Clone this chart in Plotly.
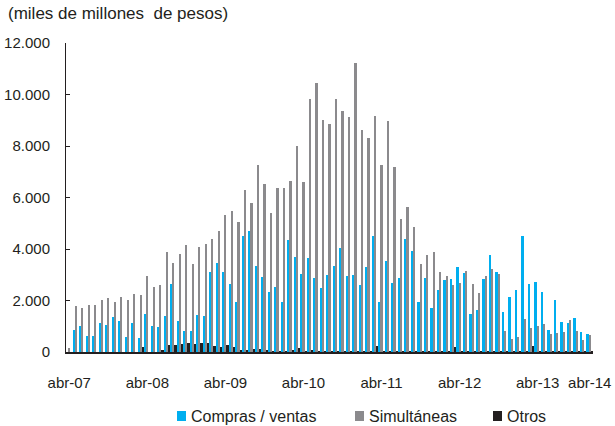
import plotly.graph_objects as go

# Month categories, April 2007 to December 2013
MES = ["ene", "feb", "mar", "abr", "may", "jun", "jul", "ago", "sep", "oct", "nov", "dic"]
meses = [f"{MES[(3 + i) % 12]}-{7 + (3 + i) // 12:02d}" for i in range(81)]

# Monthly amounts (miles de millones de pesos)
compras_ventas = [
    0, 856, 1025, 636, 636, 1115, 1064, 1375, 1206, 597, 1115, 532,
    1491, 1025, 986, 1414, 2646, 1206, 817, 817, 1440, 1414, 3113, 3463,
    3113, 2646, 1946, 4514, 4682, 3358, 2918, 2346, 2542, 1959, 4332, 3671,
    3035, 3658, 2879, 2503, 2996, 3334, 4058, 2969, 2996, 2607, 3295, 4514,
    1959, 3515, 2685, 2879, 4397, 3917, 1946, 2892, 1712, 2424, 2802, 2827,
    3307, 3074, 1491, 1634, 2827, 3748, 3100, 1543, 2127, 2400, 4514, 2633,
    2711, 2335, 843, 2010, 1154, 1141, 1310, 791, 700,
]
simultaneas = [
    150, 1790, 1712, 1829, 1829, 2010, 2114, 1959, 2140, 2023, 2270, 2218,
    2957, 2542, 2607, 3865, 3475, 3800, 4163, 3412, 4086, 4202, 4371, 4695,
    5331, 5460, 5046, 6304, 5798, 7276, 6525, 5408, 6381, 6381, 6654, 7990,
    6615, 9844, 10428, 9027, 8872, 9844, 9377, 9118, 11233, 8611, 8327, 9170,
    7263, 8988, 7198, 5175, 5630, 4864, 3412, 3774, 3891, 3113, 2957, 2594,
    2698, 3165, 2633, 2296, 2944, 3217, 3022, 830, 506, 597, 1284, 947,
    1012, 1077, 700, 752, 791, 1245, 817, 467, 661,
]
otros = [
    0, 0, 0, 0, 0, 0, 0, 0, 0, 0, 0, 180,
    0, 0, 40, 280, 270, 305, 360, 300, 350, 335, 230, 205,
    270, 205, 80, 95, 115, 115, 40, 30, 20, 20, 50, 150,
    20, 60, 20, 20, 20, 20, 20, 20, 20, 20, 20, 220,
    15, 15, 15, 15, 15, 15, 15, 15, 15, 15, 15, 210,
    10, 10, 10, 10, 10, 10, 10, 10, 10, 10, 10, 220,
    10, 10, 10, 10, 10, 10, 10, 10, 10,
]

series_names = ["Compras / ventas", "Simultáneas", "Otros"]
series_values = [compras_ventas, simultaneas, otros]
series_colors = ["#00AEEF", "#8B8A8D", "#231F20"]

x_tick_vals = ["abr-07", "abr-08", "abr-09", "abr-10", "abr-11", "abr-12", "abr-13", "dic-13"]
x_tick_text = ["abr-07", "abr-08", "abr-09", "abr-10", "abr-11", "abr-12", "abr-13", "abr-14"]
y_tick_vals = [0, 2000, 4000, 6000, 8000, 10000, 12000]
y_tick_text = ["0", "2.000", "4.000", "6.000", "8.000", "10.000", "12.000"]

INK = "#231F20"
FONT = "Liberation Sans, Arial, sans-serif"

W, H = 615, 426
L, R, T, B = 66, 22, 43, 74
PW, PH = W - L - R, H - T - B


def px_x(px):
    return (px - L) / PW


def px_y(py):
    return (H - B - py) / PH


fig = go.Figure()
for name, vals, col in zip(series_names, series_values, series_colors):
    fig.add_trace(go.Bar(x=meses, y=vals, name=name, marker_color=col,
                         marker_line_width=0, showlegend=False))

# Legend drawn as swatches + labels below the axis
legend_left = [177, 355, 493]
for name, col, lx in zip(series_names, series_colors, legend_left):
    fig.add_shape(type="rect", xref="paper", yref="paper",
                  x0=px_x(lx), x1=px_x(lx + 9), y0=px_y(421), y1=px_y(411),
                  fillcolor=col, line_width=0)
    fig.add_annotation(text=name, xref="paper", yref="paper",
                       x=px_x(lx + 12), y=px_y(416), xanchor="left", yanchor="middle",
                       showarrow=False, font=dict(size=16, color=INK, family=FONT))

fig.update_layout(
    width=W, height=H,
    margin=dict(l=L, r=R, t=T, b=B, autoexpand=False),
    paper_bgcolor="white", plot_bgcolor="white",
    barmode="group", bargap=0.0, bargroupgap=0.0,
    font=dict(family=FONT, color=INK, size=15),
    title=dict(text="(miles de millones\u00a0 de pesos)", xref="container", yref="container",
               x=8 / W, y=1 - 13 / H, xanchor="left", yanchor="middle",
               font=dict(size=17, color=INK, family=FONT)),
    xaxis=dict(type="category", tickvals=x_tick_vals, ticktext=x_tick_text,
               showline=True, linecolor=INK, linewidth=1.5, ticks="",
               showgrid=False, zeroline=False, ticklabelstandoff=16,
               tickfont=dict(size=15, color=INK)),
    yaxis=dict(range=[0, 12000], tickvals=y_tick_vals, ticktext=y_tick_text,
               showline=True, linecolor=INK, linewidth=1, ticks="inside",
               ticklen=4, tickcolor=INK, showgrid=False, zeroline=False,
               ticklabelstandoff=12, tickfont=dict(size=15, color=INK)),
)

fig.write_html("out.html")
